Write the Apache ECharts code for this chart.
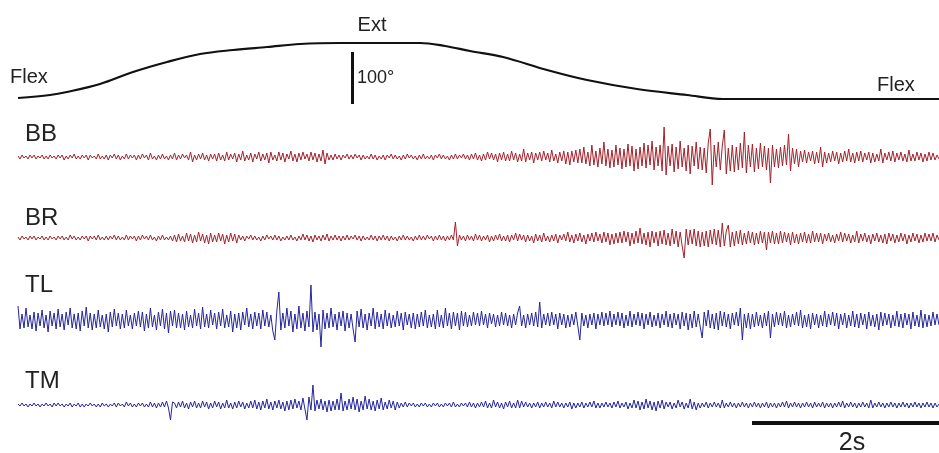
<!DOCTYPE html>
<html><head><meta charset="utf-8">
<script src="https://cdn.jsdelivr.net/npm/echarts@6/dist/echarts.min.js"></script>
<style>html,body{margin:0;padding:0;background:#fff}#c{width:939px;height:453px}</style>
</head><body><div id="c"></div>
<script>
// Elbow angle trace (time s, degrees relative to flexion)
const angleTime = [0,0.342,0.524,0.877,1.23,1.594,1.947,2.30,2.663,3.016,3.444,4.30,4.567,4.834,5.187,5.658,6.086,6.62,7.155,7.54,9.85];
const angleDeg  = [1.9,7.7,13.5,28.8,51.9,71.2,86.5,94.2,100,105.8,107.7,107.7,101.9,92.3,80.8,55.8,36.5,19.2,7.7,0,0];
const totalTime = 9.85;
// Scale bars: [time, from, to] in degrees and [from, to, level] in seconds
const angleScaleBar = [3.58, -9.6, 90.4];
const timeScaleBar = [7.85, 9.85, -18];
const muscleNames = ['BB','BR','TL','TM'];

const BB = [
1,-2,2,-1,1,-2,2,-1,2,-2,1,-1,2,-2,1,-2,2,-1,1,-2,
2,-1,2,-3,1,-2,2,-1,3,-2,1,-2,2,-1,2,-3,2,-1,1,-2,
3,-2,1,-2,2,-3,2,-1,3,-2,2,-3,1,-2,3,-2,2,-1,2,-3,
2,-2,3,-1,2,-3,4,-2,1,-3,2,-2,3,-2,1,-3,2,-2,4,-3,
2,-2,3,-1,2,-3,5,-5,2,-3,3,-2,4,-3,2,-4,3,-2,3,-4,
4,-3,2,-4,5,-3,3,-2,4,-5,3,-3,6,-4,2,-3,4,-5,3,-2,
5,-4,3,-3,4,-6,5,-3,2,-4,5,-3,4,-5,3,-2,6,-4,3,-5,
4,-3,5,-2,3,-4,5,-3,4,-5,3,-4,7,-7,4,-3,2,-3,3,-2,
2,-3,2,-1,3,-2,2,-2,3,-1,2,-3,2,-2,1,-2,3,-2,2,-3,
1,-2,2,-3,2,-1,3,-2,2,-2,1,-3,2,-2,3,-1,2,-2,1,-3,
2,-2,3,-2,1,-2,2,-3,2,-1,3,-2,2,-2,1,-3,2,-2,3,-2,
2,-1,3,-2,2,-3,3,-2,4,-3,2,-4,3,-3,5,-2,4,-3,3,-5,
4,-3,5,-4,3,-4,6,-3,4,-5,3,-4,8,-5,4,-3,5,-6,4,-3,
5,-4,6,-3,4,-5,7,-4,3,-6,5,-4,6,-7,5,-8,6,-5,7,-6,
8,-6,10,-7,5,-9,12,-8,6,-10,9,-7,15,-9,8,-11,7,-10,12,-8,
9,-12,8,-10,13,-9,11,-14,8,-12,10,-9,14,-11,12,-8,16,-13,10,-9,
12,-14,30,-18,11,-9,13,-15,10,-12,16,-10,9,-14,12,-17,11,-9,15,-12,
10,-13,9,-16,14,28,-28,12,-10,15,-13,11,27,-17,9,-14,12,-15,10,-13,
14,-11,25,-16,12,-10,13,-15,9,-12,14,-10,11,-13,9,-26,12,-10,8,-11,
10,-9,12,-8,23,-14,9,-7,8,-10,6,-5,7,-6,5,-4,6,-7,5,-6,
10,-10,5,-6,4,-5,6,-4,5,-7,4,-5,6,-4,8,-5,4,-6,5,-4,
6,-5,4,-3,5,-6,4,-5,3,-4,8,-6,4,-3,5,-4,6,-5,4,-3,
5,-4,3,-5,7,-4,3,-4,5,-3,4,-5,3,-4,5,-3,4,-3,2,-2];
const BR = [
1,-2,2,-1,1,-2,2,-1,2,-2,1,-1,2,-2,1,-2,2,-1,1,-2,
2,-1,2,-2,1,-2,3,-1,2,-2,1,-2,2,-1,2,-3,2,-1,2,-2,
3,-2,1,-2,2,-2,2,-1,3,-2,2,-2,1,-2,3,-2,2,-1,2,-3,
2,-2,3,-1,2,-2,3,-2,1,-3,2,-2,3,-2,1,-2,2,-3,3,-4,
4,-3,2,-4,5,-3,4,-5,3,-4,6,-3,4,-5,3,-6,5,-4,3,-4,
5,-3,4,-6,3,-4,5,-3,4,-5,3,-2,2,-3,2,-1,3,-2,2,-2,
1,-3,2,-2,3,-1,2,-2,3,-2,2,-3,1,-2,2,-2,3,-2,1,-3,
2,-2,4,-2,3,-3,2,-4,3,-2,2,-3,3,-2,4,-3,2,-2,3,-2,
2,-3,2,-2,3,-2,2,-1,3,-2,2,-3,2,-2,1,-2,3,-2,2,-3,
2,-2,3,-2,2,-3,2,-2,1,-3,2,-2,3,-2,2,-2,1,-3,2,-2,
3,-2,2,-2,3,-1,2,-3,2,-2,3,-2,2,-3,2,-2,3,-2,16,-8,
3,-2,2,-3,3,-2,2,-3,4,-2,3,-3,2,-2,3,-4,2,-3,3,-2,
4,-3,2,-3,3,-4,3,-2,5,-3,4,-2,3,-4,3,-3,2,-5,4,-3,
3,-4,5,-3,2,-4,3,-3,4,-5,3,-2,4,-3,6,-4,3,-5,4,-3,
5,-4,3,-6,4,-3,5,-4,6,-3,4,-5,6,-4,5,-7,4,-6,5,-5,
6,-5,7,-4,6,-8,5,-6,7,-5,10,-6,5,-7,6,-9,7,-5,6,-8,
7,-6,8,-7,5,-8,9,-6,7,-9,6,-8,-20,9,-7,8,-6,9,-8,7,
-9,6,-8,7,-9,8,-6,9,-7,8,-9,15,-8,7,13,-9,6,-8,7,-6,
8,-7,5,-6,7,-5,6,-7,5,-6,7,-5,6,-12,6,-5,7,-6,5,-6,
7,-5,6,-4,5,-7,6,-5,4,-6,5,-4,6,-5,4,-5,7,-4,5,-4,
5,-6,4,-3,5,-4,3,-5,4,-3,6,-4,5,-3,4,-5,3,-4,7,-5,
4,-3,5,-4,3,-6,4,-3,5,-4,3,-5,4,-6,5,-3,4,-5,3,-4,
5,-3,4,-6,3,-4,5,-3,4,-5,3,-4,5,-3,4,-3,5,-4,3,-2];
const TL = [
14,-9,6,-8,12,-7,5,-9,8,-11,7,-6,10,-8,5,-12,9,-6,7,-9,
11,-7,6,-10,8,-5,12,-8,6,-9,7,-11,9,-6,13,-8,7,-10,6,-8,
10,-7,5,-9,6,-12,8,-7,11,-6,7,-9,6,-8,10,-6,5,-9,7,-6,
9,-7,8,-11,6,-8,12,-7,5,-10,8,-6,11,-9,7,-13,9,-6,10,-8,
7,-8,6,-10,9,-7,5,-8,11,-6,7,-9,13,-7,6,-8,10,-5,7,-9,
8,-6,11,-8,5,-7,9,-12,6,-8,7,-10,8,-5,12,-7,6,-9,8,-6,
7,-9,10,-6,8,-7,5,-11,-20,9,28,-10,7,-8,12,-6,9,-12,6,-9,
14,-8,7,-11,9,-7,35,-12,8,-10,6,-27,10,-9,7,-8,12,-7,6,-10,
8,-6,9,-11,7,-8,6,-9,-22,9,-7,11,-8,6,-10,7,-6,12,-9,8,
-7,6,-9,10,-6,7,-8,5,-7,9,-6,7,-10,8,-5,6,-8,7,-9,6,
-7,8,-6,10,-8,5,-7,6,-9,10,-7,5,-8,12,-6,7,-9,8,-6,7,
-10,9,-6,8,-7,5,-6,8,-5,7,-6,9,-5,6,-8,7,-4,6,-7,5,
-6,8,-5,7,-6,5,-8,6,-5,7,14,-6,5,-8,6,-5,7,-6,8,-7,
18,-8,6,-5,7,-6,8,-5,6,-9,7,-5,6,-8,5,-7,6,-5,8,-6,
-20,7,-6,5,-8,6,-5,7,-9,6,-5,8,-6,7,-5,9,-7,6,-5,8,
-6,7,-8,5,-6,9,-7,6,-5,8,-6,7,-9,6,-5,8,-7,5,-6,7,
-8,6,-5,9,-7,6,-8,7,-5,6,-9,8,-6,7,-10,6,-8,9,-7,6,
-7,-18,8,-6,10,-8,6,-9,7,-10,9,-6,8,-7,6,-9,7,-5,8,-6,
12,-20,6,-8,7,-9,6,-7,8,-6,5,-8,7,-6,9,-18,6,-7,8,-5,
7,-6,9,-8,5,-7,6,-5,8,-6,10,-8,5,-7,6,-9,7,-5,6,-8,
5,-6,9,-7,6,-5,8,-6,7,-9,6,-5,7,-8,5,-6,9,-7,6,-8,
7,-5,6,-9,8,-6,5,-7,6,-10,8,-6,7,-5,6,-8,5,-6,9,-7,
6,-8,7,-5,6,-9,8,-6,5,-7,10,-8,6,-7,5,-6,8,-5,6,-5];
const TM = [
1,-1,2,-1,1,-2,1,-1,2,-1,1,-2,1,-1,2,-1,1,-2,2,-1,
2,-1,1,-2,1,-1,2,-2,1,-1,2,-2,1,-2,1,-1,2,-1,1,-2,
1,-2,2,-1,1,-2,1,-1,2,-2,2,-1,1,-2,3,-1,2,-2,1,-2,
2,-1,2,-2,1,-2,3,-2,2,-3,2,-2,3,-2,4,-3,-15,3,2,-3,
3,-2,4,-3,2,-4,3,-2,4,-3,2,-3,4,-2,3,-4,2,-3,4,-2,
3,-4,2,-3,5,-3,2,-4,3,-3,4,-2,3,-4,2,-3,4,-3,5,-4,
3,-5,4,-3,6,-4,3,-5,4,-3,5,-4,3,-6,4,-5,5,-4,6,-3,
4,-5,7,-4,-15,8,-5,20,-6,5,-4,6,-5,4,-7,5,-6,4,-5,6,
-5,12,-6,4,-5,6,-4,8,-5,6,-7,4,-5,9,-4,6,-5,4,-6,5,
-4,7,-5,3,-4,5,-3,4,-5,3,-3,2,-2,3,-2,2,-1,2,-2,1,
-2,2,-1,2,-2,1,-2,2,-1,2,-2,1,-2,2,-1,2,-2,3,-2,1,
-2,2,-1,2,-2,3,-2,2,-3,2,-2,3,-2,4,-3,2,-3,5,-2,3,
-3,2,-4,3,-2,4,-3,2,-3,5,-3,4,-2,3,-2,2,-3,2,-2,3,
-3,2,-2,3,-2,2,-3,4,-2,3,-2,2,-3,2,-2,3,-4,2,-3,2,
-2,3,-3,2,-2,3,-2,4,-3,2,-3,2,-2,3,-2,2,-3,3,-2,4,
-3,2,-2,3,-4,2,-3,5,-3,4,-5,3,-4,6,-3,4,-5,3,-6,4,
-3,5,-4,3,-2,3,-4,2,-3,5,-2,3,-4,2,-3,6,-4,3,-5,2,
-3,2,-2,3,-3,2,-2,3,-2,2,-3,5,-3,2,-2,3,-2,2,-3,2,
-2,3,-2,2,-3,2,-2,3,-2,2,-3,2,-2,3,-3,2,-2,2,-3,2,
-2,3,-2,4,-3,2,-2,3,-2,2,-3,2,-2,3,-2,2,-3,3,-2,2,
-2,3,-3,2,-2,2,-3,2,-2,3,-2,4,-3,2,-2,3,-2,2,-3,2,
-2,3,-2,2,-3,5,-3,2,-2,3,-2,2,-3,2,-2,3,-2,2,-3,2,
-2,3,-2,2,-3,2,-2,3,-2,2,-3,2,-2,3,-2,2,-3,2,-2,1];

const emgValues = [BB, BR, TL, TM];
const emgColors = ['#a3222b','#a3222b','#25259c','#25259c'];
const baselines = [157, 238, 320, 405];

const chart = echarts.init(document.getElementById('c'), null, {renderer:'canvas'});
const grids = [{left:18, right:0, top:30, height:80}];
const xAxes = [{gridIndex:0, type:'value', min:0, max:totalTime, show:false}];
const yAxes = [{gridIndex:0, type:'value', min:-21.15, max:132.69, show:false}];
const series = [{
  type:'line', xAxisIndex:0, yAxisIndex:0, smooth:0.35, symbol:'none',
  lineStyle:{color:'#111', width:2.2},
  data: angleTime.map((t,i)=>[t, angleDeg[i]]),
  markLine:{silent:true, symbol:'none', animation:false, label:{show:false},
    lineStyle:{color:'#111', width:3, type:'solid'},
    data:[[{coord:[angleScaleBar[0], angleScaleBar[1]]},{coord:[angleScaleBar[0], angleScaleBar[2]]}]]}
}];
emgValues.forEach((vals, k) => {
  const gi = k + 1;
  grids.push({left:18, right:0, top:baselines[k]-40, height:80});
  xAxes.push({gridIndex:gi, type:'value', min:0, max:totalTime, show:false});
  yAxes.push({gridIndex:gi, type:'value', min:-40, max:40, show:false});
  const dt = totalTime/(vals.length-1);
  const s = {type:'line', xAxisIndex:gi, yAxisIndex:gi, symbol:'none', sampling:null,
    lineStyle:{color:emgColors[k], width:1}, data: vals.map((v,i)=>[i*dt, v])};
  if (k === 3) {
    s.markLine = {silent:true, symbol:'none', animation:false, label:{show:false},
      lineStyle:{color:'#111', width:4, type:'solid'},
      data:[[{coord:[timeScaleBar[0], timeScaleBar[2]]},{coord:[timeScaleBar[1], timeScaleBar[2]]}]]};
  }
  series.push(s);
});

const txt = (text, x, y, size, align) => ({type:'text', x:x, y:y, style:{text:text, fill:'#222',
  font: size+'px "Liberation Sans", Arial, sans-serif', textAlign:align||'left', textVerticalAlign:'middle'}});
const graphics = [
  txt('Ext', 372, 25, 20, 'center'),
  txt('Flex', 10, 77, 20),
  txt('100°', 357, 78, 18),
  txt('Flex', 877, 85, 20),
  txt('2s', 852, 443, 25, 'center')
];
const labelY = [134, 218, 285, 381];
muscleNames.forEach((n,k)=>graphics.push(txt(n, 25, labelY[k], 24)));

chart.setOption({animation:false, backgroundColor:'#fff', grid:grids, xAxis:xAxes, yAxis:yAxes, series:series, graphic:graphics});
</script></body></html>
